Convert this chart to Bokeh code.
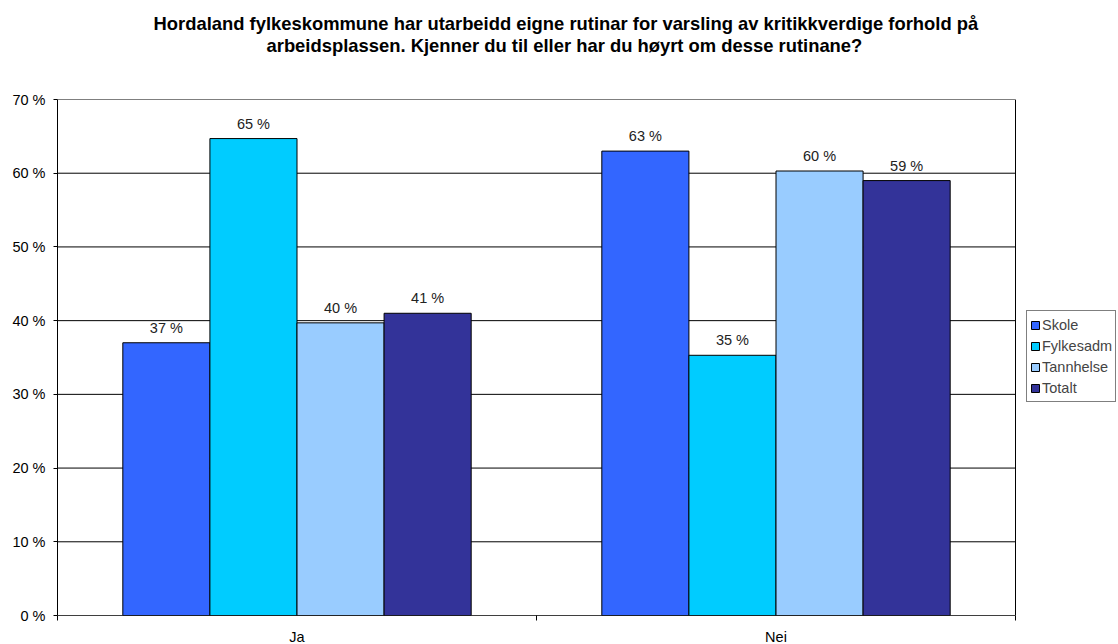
import numpy as np
from bokeh.plotting import figure
from bokeh.models import (ColumnDataSource, FixedTicker, Legend, LegendItem, Title,
                          Range1d)
from bokeh.embed import file_html
from bokeh.resources import INLINE
from bokeh.core.properties import value

# ---- data ----
categories = ["Ja", "Nei"]
series = ["Skole", "Fylkesadm", "Tannhelse", "Totalt"]
skole = [37.0, 63.0]
fylkesadm = [64.7, 35.3]
tannhelse = [39.7, 60.3]
totalt = [41.0, 59.0]
skole_labels = ["37 %", "63 %"]
fylkesadm_labels = ["65 %", "35 %"]
tannhelse_labels = ["40 %", "60 %"]
totalt_labels = ["41 %", "59 %"]
colors = ["#3366FF", "#00CCFF", "#99CCFF", "#333399"]
y_ticks = [0, 10, 20, 30, 40, 50, 60, 70]
y_tick_labels = ["0 %", "10 %", "20 %", "30 %", "40 %", "50 %", "60 %", "70 %"]
title_line1 = "Hordaland fylkeskommune har utarbeidd eigne rutinar for varsling av kritikkverdige forhold på"
title_line2 = "arbeidsplassen. Kjenner du til eller har du høyrt om desse rutinane?"

FONT = "Liberation Sans"

values_all = [skole, fylkesadm, tannhelse, totalt]
labels_all = [skole_labels, fylkesadm_labels, tannhelse_labels, totalt_labels]

n_cat = len(categories)
n_series = len(series)
gap = 1.5
bar_w = 1.0 / (n_series + gap)
centers = np.arange(n_cat) + 0.5

# plot area 958 px wide for the categories; frame extends further right to hold the legend
PLOT_W = 958
FRAME_W = 1061
x_end = n_cat * FRAME_W / PLOT_W

p = figure(frame_width=FRAME_W, frame_height=516, output_backend="svg", toolbar_location=None,
           x_range=Range1d(0, x_end), y_range=Range1d(0, y_ticks[-1]),
           min_border_left=57, min_border_right=0, min_border_top=99,
           min_border_bottom=29)
p.background_fill_color = "white"
p.border_fill_color = "white"
p.outline_line_color = None
p.xgrid.grid_line_color = None
p.ygrid.grid_line_color = None

# horizontal gridlines across the category area
p.segment(x0=[0] * len(y_ticks), x1=[n_cat] * len(y_ticks), y0=y_ticks, y1=y_ticks,
          line_color="#000000", line_width=1)
# right border of plot area
p.segment(x0=[n_cat], x1=[n_cat], y0=[y_ticks[0]], y1=[y_ticks[-1]],
          line_color="#000000", line_width=1)

legend_items = []
for i, (name, vals, labs, col) in enumerate(zip(series, values_all, labels_all, colors)):
    xs = centers + (i - (n_series - 1) / 2) * bar_w
    src = ColumnDataSource(dict(x=xs, top=vals, lab=labs))
    r = p.vbar(x="x", top="top", width=bar_w, bottom=0, source=src,
               fill_color=col, line_color="#000000", line_width=1)
    p.text(x="x", y="top", text="lab", source=src, text_align="center",
           text_baseline="bottom", y_offset=-7, text_font=value(FONT),
           text_font_size="14.5px", text_color="#222222")
    legend_items.append(LegendItem(label=name, renderers=[r]))

# bottom axis line across the category area
p.segment(x0=[0], x1=[n_cat], y0=[y_ticks[0]], y1=[y_ticks[0]],
          line_color="#000000", line_width=1)

# y axis
p.yaxis.ticker = FixedTicker(ticks=y_ticks)
p.yaxis.major_label_overrides = {t: l for t, l in zip(y_ticks, y_tick_labels)}
p.yaxis.major_label_text_font = FONT
p.yaxis.major_label_text_font_size = "14.5px"
p.yaxis.major_label_text_color = "#000000"
p.yaxis.major_tick_out = 4
p.yaxis.major_tick_in = 0
p.yaxis.minor_tick_line_color = None
p.yaxis.axis_line_color = "#000000"
p.yaxis.major_label_standoff = 8

# x axis
p.xaxis.ticker = FixedTicker(ticks=list(centers), minor_ticks=list(range(n_cat + 1)))
p.xaxis.major_label_overrides = {float(c): cat for c, cat in zip(centers, categories)}
p.xaxis.major_tick_line_color = None
p.xaxis.minor_tick_out = 5
p.xaxis.minor_tick_in = 0
p.xaxis.minor_tick_line_color = "#000000"
p.xaxis.axis_line_color = None
p.xaxis.major_label_text_font = FONT
p.xaxis.major_label_text_font_size = "14.5px"
p.xaxis.major_label_text_color = "#000000"
p.xaxis.major_label_standoff = 7

# legend, just right of the category area
legend = Legend(items=legend_items, location=(969, 213),
                label_text_font=FONT, label_text_font_size="14.5px",
                glyph_width=10, glyph_height=10, label_standoff=2,
                spacing=0, padding=3, margin=0,
                border_line_color="#000000", border_line_width=1,
                label_height=21)
p.add_layout(legend, "center")

# titles: a small spacer nearest the frame, then the two title lines
spacer = Title(text=" ", text_font_size="1px", standoff=41)
t2 = Title(text=title_line2, align="left", text_font=FONT, text_font_size="18.4px",
           text_font_style="bold", text_color="#000000", standoff=0, offset=209)
t1 = Title(text=title_line1, align="left", text_font=FONT, text_font_size="18.4px",
           text_font_style="bold", text_color="#000000", standoff=-2, offset=96)
p.add_layout(spacer, "above")
p.add_layout(t2, "above")
p.add_layout(t1, "above")

open("out.html", "w").write(file_html(p, INLINE))
